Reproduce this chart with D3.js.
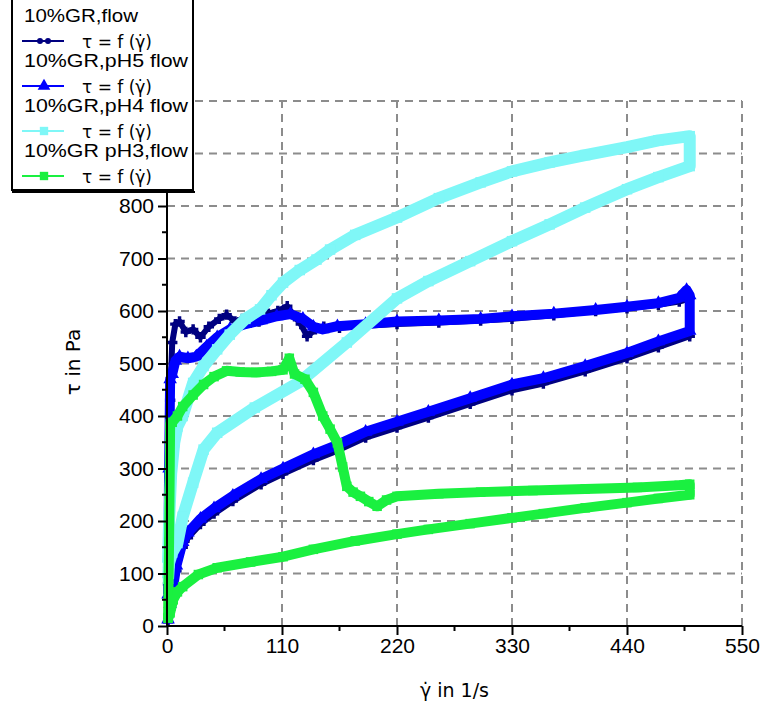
<!DOCTYPE html>
<html>
<head>
<meta charset="utf-8">
<script src="https://cdn.jsdelivr.net/npm/d3@7"></script>
<style>
  body { margin: 0; background: #fff; }
  text { font-family: "Liberation Sans", Arial, sans-serif; }
</style>
</head>
<body>
<div id="chart"></div>
<script>
// ---- data ----
const xTicks = [0, 110, 220, 330, 440, 550];
const yTicks = [0, 100, 200, 300, 400, 500, 600, 700, 800, 900, 1000];

// 10%GR,flow (navy)
const grX = [1, 2, 3, 5, 8, 12, 18, 25, 32, 40, 50, 57, 65, 72, 79, 88, 97, 106, 115, 122, 128, 134, 142, 150, 165, 190, 220, 260, 300, 330, 370, 410, 440, 470, 490, 500,
             500, 470, 440, 400, 360, 330, 290, 250, 220, 190, 163, 140, 111, 90, 63, 45, 32, 20, 15, 9, 6, 3, 1];
const grY = [80, 250, 430, 540, 575, 580, 560, 565, 550, 570, 585, 593, 580, 585, 588, 580, 595, 600, 609, 590, 575, 552, 565, 570, 568, 572, 575, 578, 582, 585, 592, 600, 605, 612, 618, 625,
             552, 531, 510, 485, 462, 449, 423, 397, 378, 359, 334, 316, 290, 270, 238, 214, 194, 168, 150, 105, 68, 32, 8];

// 10%GR,pH5 flow (blue)
const ph5X = [1, 2, 3, 5, 8, 12, 20, 28, 38, 48, 60, 75, 90, 105, 118, 130, 140, 149, 163, 190, 220, 260, 300, 330, 370, 410, 440, 470, 490, 497, 500,
              500, 470, 440, 400, 360, 330, 290, 250, 220, 190, 163, 140, 111, 90, 63, 45, 32, 20, 15, 9, 6, 3, 1];
const ph5Y = [60, 300, 470, 480, 505, 513, 510, 513, 532, 550, 565, 575, 582, 590, 594, 585, 570, 565, 571, 575, 580, 582, 585, 590, 595, 602, 608, 615, 625, 640, 630,
              562, 542, 520, 495, 472, 460, 434, 408, 389, 370, 345, 327, 300, 280, 248, 224, 204, 178, 160, 115, 77, 42, 12];

// 10%GR,pH4 flow (cyan)
const ph4X = [1, 2, 4, 7, 10, 15, 25, 35, 48, 60, 75, 89, 100, 111, 127, 143, 156, 180, 220, 260, 300, 330, 366, 400, 440, 470, 500,
              500, 470, 440, 400, 366, 330, 290, 250, 220, 172, 127, 84, 48, 35, 25, 15, 10, 5, 2, 1];
const ph4Y = [120, 200, 290, 350, 380, 400, 463, 495, 527, 555, 585, 603, 630, 654, 678, 698, 717, 745, 778, 815, 845, 866, 883, 897, 912, 925, 933,
              876, 855, 832, 797, 765, 733, 695, 657, 624, 540, 465, 416, 368, 336, 273, 208, 158, 140, 120, 90];

// 10%GR pH3,flow (green)
const ph3X = [1, 2, 3, 5, 10, 15, 25, 35, 45, 57, 70, 85, 100, 111, 117, 122, 132, 140, 149, 156, 163, 168, 172, 178, 185, 193, 201, 210, 220, 260, 300, 350, 400, 450, 490, 500,
              500, 470, 440, 400, 360, 330, 290, 250, 220, 180, 140, 111, 80, 48, 30, 15, 10, 6, 3, 1];
const ph3Y = [15, 160, 385, 388, 400, 418, 440, 460, 475, 486, 484, 483, 485, 488, 510, 480, 470, 445, 400, 375, 349, 303, 266, 255, 247, 237, 228, 240, 247, 252, 255, 258, 261, 264, 268, 270,
              250, 243, 235, 225, 214, 206, 195, 184, 175, 162, 146, 132, 122, 111, 98, 75, 65, 50, 25, 15];

const seriesNames = ["10%GR,flow", "10%GR,pH5 flow", "10%GR,pH4 flow", "10%GR pH3,flow"];
const seriesLabel = "\u03c4 = f (\u03b3\u0307)";

const width = 760, height = 701;
const margin = { top: 101, right: 18, bottom: 75, left: 167 };

const svg = d3.select("#chart").append("svg")
  .attr("width", width).attr("height", height);

const x = d3.scaleLinear().domain([0, 550]).range([margin.left, width - margin.right]);
const y = d3.scaleLinear().domain([0, 1000]).range([height - margin.bottom, margin.top]);

// grid
const grid = svg.append("g").attr("stroke", "#8c8c8c").attr("stroke-width", 2).attr("stroke-dasharray", "8,6");
grid.selectAll(".gy").data(yTicks.slice(1)).enter().append("line")
  .attr("x1", x(0)).attr("x2", x(550)).attr("y1", d => y(d)).attr("y2", d => y(d));
grid.selectAll(".gx").data(xTicks.slice(1)).enter().append("line")
  .attr("x1", d => x(d)).attr("x2", d => x(d)).attr("y1", y(0)).attr("y2", y(1000));

// series
const zip = (xs, ys) => xs.map((v, i) => [v, ys[i]]);
const line = d3.line().x(d => x(d[0])).y(d => y(d[1]));

const series = [
  { data: zip(grX, grY), color: "#000080", width: 6, sym: d3.symbolCross, size: 60 },
  { data: zip(ph5X, ph5Y), color: "#0000ff", width: 10, sym: d3.symbolTriangle, size: 80 },
  { data: zip(ph4X, ph4Y), color: "#7ff7f7", width: 12, sym: d3.symbolSquare, size: 110 },
  { data: zip(ph3X, ph3Y), color: "#1af040", width: 10, sym: d3.symbolSquare, size: 90 }
];

series.forEach(s => {
  svg.append("path").datum(s.data)
    .attr("fill", "none").attr("stroke", s.color)
    .attr("stroke-width", s.width).attr("stroke-linejoin", "round")
    .attr("d", line);
  svg.append("g").selectAll("path").data(s.data).enter().append("path")
    .attr("transform", d => `translate(${x(d[0])},${y(d[1])})`)
    .attr("d", d3.symbol().type(s.sym).size(s.size))
    .attr("fill", s.color);
});

// axes
const axisY = svg.append("g").attr("transform", `translate(${x(0)},0)`)
  .call(d3.axisLeft(y).tickValues(yTicks.slice(0, 9)).tickSize(9).tickPadding(4).tickFormat(d3.format("d")));
const axisX = svg.append("g").attr("transform", `translate(0,${y(0)})`)
  .call(d3.axisBottom(x).tickValues(xTicks).tickSize(9).tickPadding(3).tickFormat(d3.format("d")));
[axisY, axisX].forEach(a => {
  a.select(".domain").attr("stroke", "#000").attr("stroke-width", 2);
  a.selectAll(".tick line").attr("stroke", "#000").attr("stroke-width", 2);
  a.selectAll(".tick text").attr("fill", "#000").style("font-size", "21px")
    .style("font-family", "'Liberation Sans', Arial, sans-serif");
});
axisY.select(".domain").attr("d", `M0,${y(0)}V${y(1000)}`);
axisX.select(".domain").attr("d", `M${x(0)},0H${x(550)}`);

// minor ticks
svg.append("g").selectAll("line").data(d3.range(50, 1000, 100)).enter().append("line")
  .attr("x1", x(0) - 5).attr("x2", x(0)).attr("y1", d => y(d)).attr("y2", d => y(d))
  .attr("stroke", "#000").attr("stroke-width", 2);
svg.append("g").selectAll("line").data(d3.range(55, 550, 110)).enter().append("line")
  .attr("y1", y(0)).attr("y2", y(0) + 5).attr("x1", d => x(d)).attr("x2", d => x(d))
  .attr("stroke", "#000").attr("stroke-width", 2);

// axis titles
svg.append("text")
  .attr("transform", "translate(80,362) rotate(-90)")
  .attr("text-anchor", "middle").style("font-size", "20px")
  .style("font-family", "'DejaVu Sans', sans-serif")
  .text("\u03c4 in Pa");
svg.append("text")
  .attr("x", (x(0) + x(550)) / 2).attr("y", 697)
  .attr("text-anchor", "middle").style("font-size", "19px")
  .style("font-family", "'DejaVu Sans', sans-serif")
  .text("\u03b3\u0307 in 1/s");

// legend
const lg = svg.append("g");
lg.append("rect").attr("x", 12).attr("y", -10).attr("width", 181).attr("height", 200)
  .attr("fill", "#fff").attr("stroke", "#000").attr("stroke-width", 2);
lg.append("line").attr("x1", 12).attr("x2", 195).attr("y1", 192).attr("y2", 192)
  .attr("stroke", "#000").attr("stroke-width", 2);
series.forEach((s, i) => {
  const top = i * 45;
  lg.append("text").attr("x", 24).attr("y", top + 22).style("font-size", "19px")
    .attr("textLength", i === 0 ? 114 : 164).attr("lengthAdjust", "spacingAndGlyphs")
    .text(seriesNames[i]);
  const cy = top + 41;
  lg.append("line").attr("x1", 22).attr("x2", 64).attr("y1", cy).attr("y2", cy)
    .attr("stroke", s.color).attr("stroke-width", 2);
  if (i === 0) {
    [40, 48].forEach(cx => lg.append("circle").attr("cx", cx).attr("cy", cy).attr("r", 3).attr("fill", s.color));
  } else {
    lg.append("path").attr("transform", `translate(44,${cy})`)
      .attr("d", d3.symbol().type(s.sym).size(70)).attr("fill", s.color);
  }
  lg.append("text").attr("x", 82).attr("y", cy + 7).style("font-size", "18px")
    .style("font-family", "'DejaVu Sans', sans-serif")
    .attr("textLength", 70).attr("lengthAdjust", "spacingAndGlyphs")
    .text(seriesLabel);
});
</script>
</body>
</html>
